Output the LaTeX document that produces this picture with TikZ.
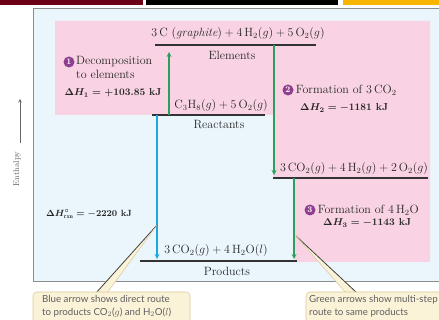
\documentclass[tikz,border=0pt]{standalone}
\usepackage{fontspec}
\usepackage{amsmath}
\newfontfamily\calloutfont{Lato}
\usetikzlibrary{arrows.meta}

\definecolor{panelblue}{HTML}{EAF6FC}
\definecolor{panelline}{HTML}{8C8C8C}
\definecolor{pinkfill}{HTML}{F9D3E3}
\definecolor{arrgreen}{HTML}{2E9E5E}
\definecolor{arrblue}{HTML}{1BA7E0}
\definecolor{numpurple}{HTML}{8E3F8F}
\definecolor{levelline}{HTML}{333333}
\definecolor{callfill}{HTML}{FBF3D8}
\definecolor{callline}{HTML}{D9C99B}
\definecolor{calltext}{HTML}{5E5E5E}
\definecolor{topred}{HTML}{6B0016}
\definecolor{topyellow}{HTML}{F7B500}

\tikzset{
  level/.style={draw=levelline, line width=1.4pt},
  greenarr/.style={->, draw=arrgreen, line width=1.2pt},
  bluearr/.style={->, draw=arrblue, line width=1.2pt},
  lbl/.style={font=\fontsize{12}{14}\selectfont, text=black!85, inner sep=0pt},
  dh/.style={lbl, font=\fontsize{10.2}{12}\selectfont\boldmath\bfseries},
  num/.style={circle, fill=numpurple, text=white, inner sep=0pt, minimum size=11pt,
    font=\fontsize{8.5}{8.5}\selectfont\bfseries},
  callbox/.style={draw=callline, fill=callfill, rounded corners=4pt, line width=0.6pt},
  calltxt/.style={font=\calloutfont\fontsize{9.7}{13}\selectfont, text=calltext,
    align=left, inner sep=0pt, anchor=north west}
}

\begin{document}
\begin{tikzpicture}[x=1pt, y=-1pt, >=stealth]
    \clip (0,0) rectangle (439,320);
    % Top strip
    \fill[topred] (0,0) rectangle (143,5);
    \fill[black] (146,0) rectangle (338,5);
    \fill[topyellow] (343,0) rectangle (439,5);
    % Panel and shaded region
    \draw[panelline, fill=panelblue, line width=0.8pt] (33,8) rectangle (460,281);
    \fill[pinkfill] (55,21) -- (430,21) -- (430,262) -- (295,262) -- (295,178)
        -- (273,178) -- (273,115) -- (55,115) -- cycle;
    % Enthalpy axis
    \node[lbl, rotate=90, text=black!60, font=\fontsize{8.5}{10}\selectfont] (enth) at (17,169) {Enthalpy};
    \coordinate (enthbot) at (20,143);
    \coordinate (enthtop) at (20,99);
    \draw[->, black!60, line width=0.6pt] (enthbot) -- (enthtop);
    % Levels
    \draw[level] (155,45) coordinate (elemL) -- (316,45) coordinate (elemR);
    \draw[level] (152,115) coordinate (reactL) -- (265,115) coordinate (reactR);
    \draw[level] (273,178) coordinate (interL) -- (428,178) coordinate (interR);
    \draw[level] (140,261) coordinate (prodL) -- (297,261) coordinate (prodR);
    \node[lbl] (elem) at (238,34) {$3\,\mathrm{C}\ (\mathit{graphite}) + 4\,\mathrm{H}_2(g) + 5\,\mathrm{O}_2(g)$};
    \node[lbl] (elemname) at (232,55) {Elements};
    \node[lbl] (react) at (221,106) {$\mathrm{C}_3\mathrm{H}_8(g) + 5\,\mathrm{O}_2(g)$};
    \node[lbl] (reactname) at (219,125) {Reactants};
    \node[lbl] (inter) at (354,169) {$3\,\mathrm{CO}_2(g) + 4\,\mathrm{H}_2(g) + 2\,\mathrm{O}_2(g)$};
    \node[lbl] (prod) at (216,251) {$3\,\mathrm{CO}_2(g) + 4\,\mathrm{H}_2\mathrm{O}(l)$};
    \node[lbl] (prodname) at (227,271) {Products};
    % Arrows
    \coordinate (g1s) at (169,115); \coordinate (g1e) at (169,52);
    \coordinate (g2s) at (274,45);  \coordinate (g2e) at (274,175);
    \coordinate (g3s) at (294,178); \coordinate (g3e) at (294,259);
    \coordinate (b1s) at (157,115); \coordinate (b1e) at (157,259);
    \draw[greenarr] (g1s) -- (g1e);
    \draw[greenarr] (g2s) -- (g2e);
    \draw[greenarr] (g3s) -- (g3e);
    \draw[bluearr] (b1s) -- (b1e);
    % Step labels
    \node[num] (n1) at (69,62) {1};
    \node[lbl, anchor=north west, align=left] (step1) at (76,56) {Decomposition\\to elements};
    \node[dh] (dh1) at (113,93) {$\Delta H_1 = +103.85$ kJ};
    \node[num] (n2) at (288,90) {2};
    \node[lbl, anchor=west] (step2) at ([xshift=2pt]n2.east) {Formation of 3\,CO$_2$};
    \node[dh, anchor=west] (dh2) at (300,108) {$\Delta H_2 = -1181$ kJ};
    \node[num] (n3) at (310,210) {3};
    \node[lbl, anchor=west] (step3) at ([xshift=2pt]n3.east) {Formation of 4\,H$_2$O};
    \node[dh, anchor=west] (dh3) at (323,223) {$\Delta H_3 = -1143$ kJ};
    \node[dh, font=\fontsize{9}{11}\selectfont\boldmath\bfseries] (dhrxn) at (89,214) {$\Delta H^\circ_{\mathrm{rxn}} = -2220$ kJ};
    % Callouts
    \coordinate (tipL) at (157,225);
    \coordinate (tipR) at (296,236);
    \fill[callfill] (95,293) -- (tipL) -- (107,293) -- cycle;
    \draw[black!75, line width=0.8pt] (96,293) -- (tipL);
    \draw[callline, line width=0.5pt] (107,293) -- (tipL);
    \fill[callfill] (346,293) -- (tipR) -- (358,293) -- cycle;
    \draw[black!75, line width=0.8pt] (357,293) -- (tipR);
    \draw[callline, line width=0.5pt] (346,293) -- (tipR);
    \draw[callbox] (33,292) rectangle (190,335);
    \draw[callbox] (306,292) rectangle (470,335);
    \fill[callfill] (94,293.5) rectangle (108,296);
    \fill[callfill] (345,293.5) rectangle (359,296);
    \node[calltxt] (noteL) at (42,295) {Blue arrow shows direct route\\to products CO$_2$($g$) and H$_2$O($l$)};
    \node[calltxt] (noteR) at (309,295) {Green arrows show multi-step\\route to same products};
\end{tikzpicture}
\end{document}
